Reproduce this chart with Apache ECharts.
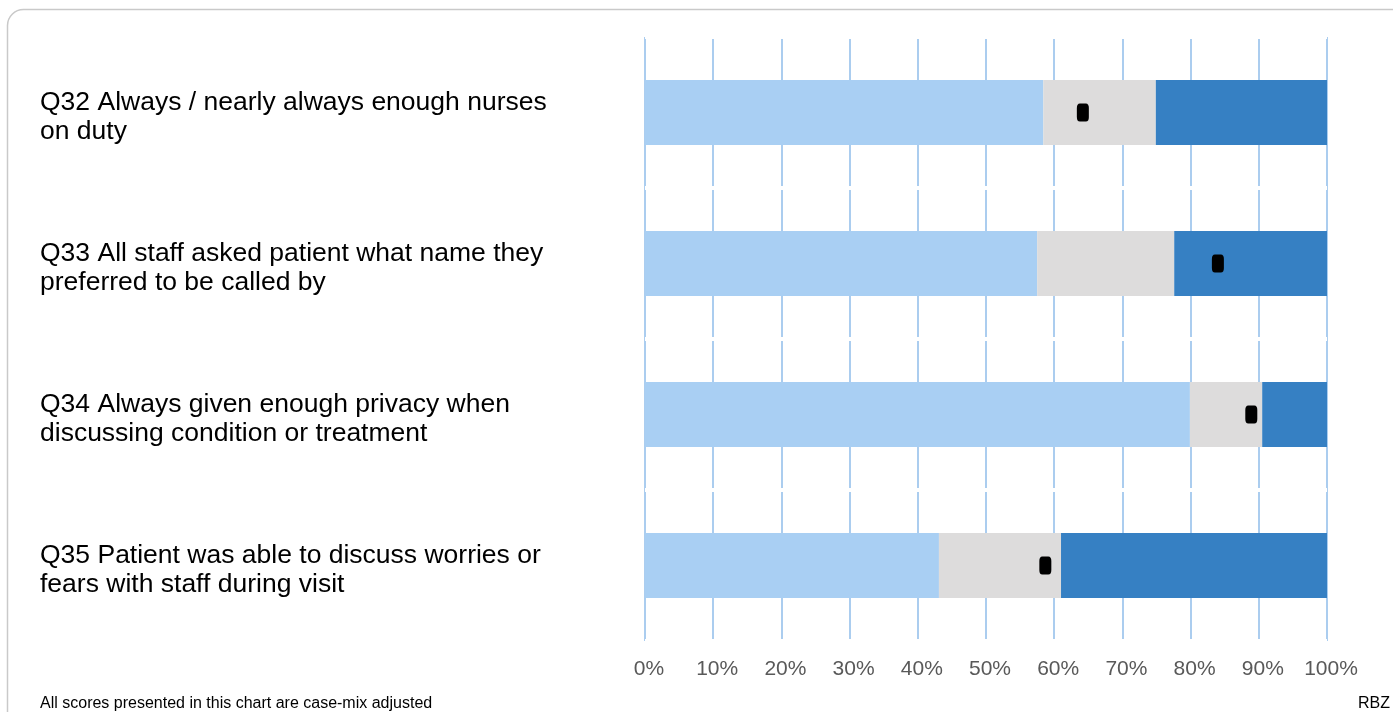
<!DOCTYPE html>
<html>
<head>
<meta charset="utf-8">
<script src="https://cdn.jsdelivr.net/npm/echarts@6/dist/echarts.min.js"></script>
<style>
  html, body { margin: 0; padding: 0; background: #fff; }
  #chart { width: 1393px; height: 712px; }
</style>
</head>
<body>
<div id="chart"></div>
<script>
const questions = [
  "Q32 Always / nearly always enough nurses\non duty",
  "Q33 All staff asked patient what name they\npreferred to be called by",
  "Q34 Always given enough privacy when\ndiscussing condition or treatment",
  "Q35 Patient was able to discuss worries or\nfears with staff during visit"
];
// band thresholds (percent)
const lowerLimit = [58.4, 57.5, 79.9, 43.1];
const upperLimit = [74.9, 77.6, 90.5, 61.0];
// trust score
const trustScore = [64.2, 84.0, 88.9, 58.7];
const tickLabels = ["0%", "10%", "20%", "30%", "40%", "50%", "60%", "70%", "80%", "90%", "100%"];

const lowBand = lowerLimit.map(v => v);
const midBand = upperLimit.map((v, i) => +(v - lowerLimit[i]).toFixed(1));
const highBand = upperLimit.map(v => +(100 - v).toFixed(1));

const chart = echarts.init(document.getElementById("chart"));
const option = {
  animation: false,
  textStyle: { fontFamily: "Liberation Sans, Arial, sans-serif" },
  grid: { left: 645, right: 66, top: 37, bottom: 71 },
  xAxis: {
    type: "value",
    min: 0,
    max: 100,
    interval: 10,
    axisLine: { show: false },
    axisTick: { show: false },
    splitLine: { show: true, lineStyle: { color: "#abcdef", width: 2 } },
    axisLabel: {
      color: "#595959",
      fontSize: 21,
      margin: 18,
      padding: [0, 0, 0, 8],
      formatter: (v) => tickLabels[Math.round(v / 10)]
    }
  },
  yAxis: {
    type: "category",
    inverse: true,
    data: questions,
    z: 1,
    axisLine: { show: false },
    axisTick: { show: false },
    splitLine: { show: true, lineStyle: { color: "#ffffff", width: 4 } },
    axisLabel: {
      align: "left",
      margin: 605,
      formatter: (v) => "{s|}\n" + v.split("\n").map(l => "{t|" + l + "}").join("\n"),
      rich: {
        s: { lineHeight: 10, fontSize: 10 },
        t: { color: "#000000", fontSize: 26.5, lineHeight: 29 }
      }
    }
  },
  series: [
    {
      name: "lower",
      type: "bar",
      stack: "band",
      barWidth: 65,
      itemStyle: { color: "#a9cff3" },
      data: lowBand
    },
    {
      name: "middle",
      type: "bar",
      stack: "band",
      barWidth: 65,
      itemStyle: { color: "#dddcdc" },
      data: midBand
    },
    {
      name: "upper",
      type: "bar",
      stack: "band",
      barWidth: 65,
      itemStyle: { color: "#3680c3" },
      data: highBand
    },
    {
      name: "score",
      type: "scatter",
      symbol: "roundRect",
      symbolSize: [12, 18],
      itemStyle: { color: "#000000", opacity: 1 },
      z: 5,
      data: trustScore.map((v, i) => [v, i])
    }
  ],
  graphic: [
    {
      type: "rect",
      shape: { x: 7.5, y: 9.5, width: 1420, height: 740, r: 16 },
      style: { fill: "none", stroke: "#c9c9c9", lineWidth: 1.5 },
      silent: true
    },
    {
      type: "text",
      left: 40,
      top: 696,
      style: {
        text: "All scores presented in this chart are case-mix adjusted",
        fill: "#000",
        font: "16px Liberation Sans, Arial, sans-serif"
      }
    },
    {
      type: "text",
      right: 3,
      top: 696,
      style: {
        text: "RBZ",
        fill: "#000",
        font: "16px Liberation Sans, Arial, sans-serif"
      }
    }
  ]
};
chart.setOption(option);
window.addEventListener("resize", function () {
  chart.resize();
});
</script>
</body>
</html>
